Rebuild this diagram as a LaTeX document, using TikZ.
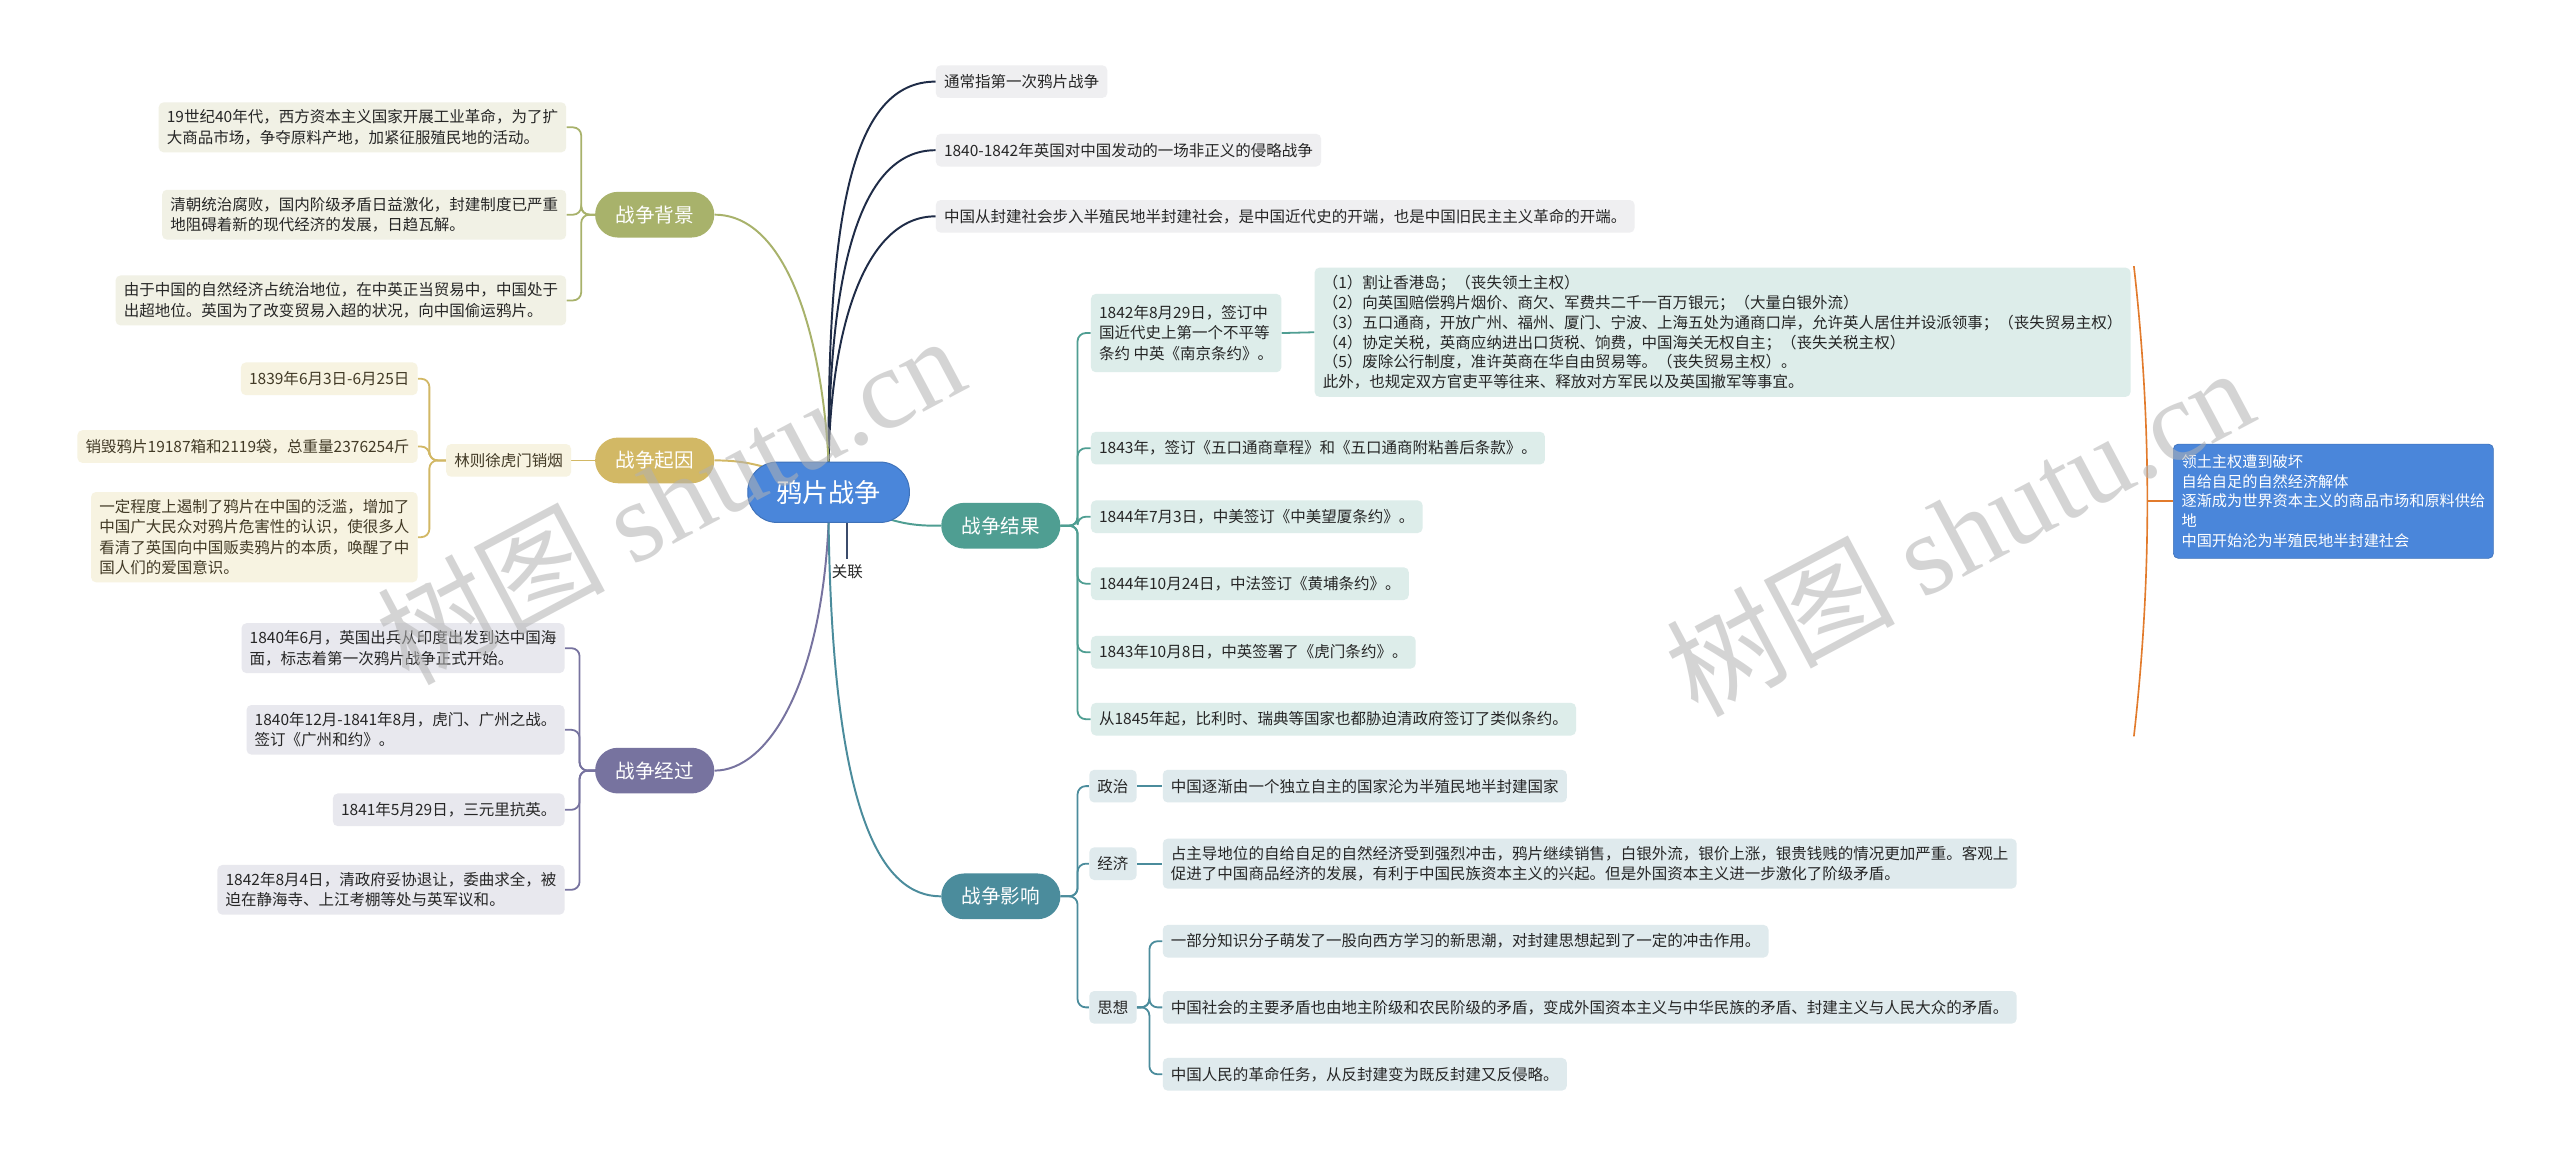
\documentclass[tikz,border=0pt]{standalone}
\usepackage{fontspec}
\setmainfont{Noto Sans CJK SC}
\newfontfamily\wmfont{Liberation Serif}
\usepackage{xcolor}
\usetikzlibrary{backgrounds}

\definecolor{rootblue}{HTML}{4A86DA}
\definecolor{oliveC}{HTML}{A8B26B}
\definecolor{goldC}{HTML}{D2B865}
\definecolor{purpleC}{HTML}{77739F}
\definecolor{tealC}{HTML}{4F9E92}
\definecolor{blueteal}{HTML}{4B8C9C}
\definecolor{navyC}{HTML}{1F2C47}
\definecolor{olivebox}{HTML}{F1F1E5}
\definecolor{goldbox}{HTML}{F7F3E1}
\definecolor{purplebox}{HTML}{E8E8EE}
\definecolor{graybox}{HTML}{EFEFF1}
\definecolor{tealbox}{HTML}{DDEDEA}
\definecolor{bluetealbox}{HTML}{DFEAED}
\definecolor{braceorange}{HTML}{E27B2C}
\definecolor{relslate}{HTML}{3B4B6B}
\definecolor{inkdark}{HTML}{262626}
\definecolor{inkgold}{HTML}{423A26}

\begin{document}
\begin{tikzpicture}[x=1pt,y=-1pt,
  every node/.style={font=\fontsize{9.5}{12.5}\selectfont, text=inkdark},
  root/.style={fill=rootblue, draw=rootblue!85!black, line width=0.6pt, rounded corners=18pt,
    minimum width=99pt, minimum height=37pt, text=white, font=\fontsize{16}{16}\selectfont},
  topic/.style={rounded corners=14pt, minimum width=73pt, minimum height=28pt, text=white,
    font=\fontsize{12}{12}\selectfont},
  leaf/.style={rounded corners=3pt, inner xsep=5pt, inner ysep=4.5pt, minimum height=20pt, align=left},
  link/.style={line width=1.2pt},
  fork/.style={line width=1.1pt, rounded corners=5pt},
  watermark/.style={text=black!30, text opacity=0.55, font=\fontsize{70}{70}\selectfont, rotate=28}
]
  \useasboundingbox (0,0) rectangle (1568,709);

  % root and main topics
  \node[root] (root) at (507.5,301.5) {鸦片战争};
  \node[topic, fill=oliveC] (bg) at (401,131.5) {战争背景};
  \node[topic, fill=goldC] (cause) at (401,282) {战争起因};
  \node[topic, fill=purpleC] (proc) at (401,472) {战争经过};
  \node[topic, fill=tealC] (res) at (613,322) {战争结果};
  \node[topic, fill=blueteal] (eff) at (613,549) {战争影响};
  \node (rel) at (519,350) {关联};

  % notes on the war itself
  \node[leaf, fill=graybox, anchor=west] (t1) at (573,50) {通常指第一次鸦片战争};
  \node[leaf, fill=graybox, anchor=west] (t2) at (573,92) {1840-1842年英国对中国发动的一场非正义的侵略战争};
  \node[leaf, fill=graybox, anchor=west] (t3) at (573,132.5) {中国从封建社会步入半殖民地半封建社会，是中国近代史的开端，也是中国旧民主主义革命的开端。};

  % background
  \node[leaf, fill=olivebox, anchor=east] (b1) at (347,78) {19世纪40年代，西方资本主义国家开展工业革命，为了扩\\大商品市场，争夺原料产地，加紧征服殖民地的活动。};
  \node[leaf, fill=olivebox, anchor=east] (b2) at (347,131.5) {清朝统治腐败，国内阶级矛盾日益激化，封建制度已严重\\地阻碍着新的现代经济的发展，日趋瓦解。};
  \node[leaf, fill=olivebox, anchor=east] (b3) at (347,184) {由于中国的自然经济占统治地位，在中英正当贸易中，中国处于\\出超地位。英国为了改变贸易入超的状况，向中国偷运鸦片。};

  % cause
  \node[leaf, fill=goldbox, text=inkgold, anchor=east] (lin) at (350,282) {林则徐虎门销烟};
  \node[leaf, fill=goldbox, text=inkgold, anchor=east] (c1) at (256,232) {1839年6月3日-6月25日};
  \node[leaf, fill=goldbox, text=inkgold, anchor=east] (c2) at (256,273.5) {销毁鸦片19187箱和2119袋，总重量2376254斤};
  \node[leaf, fill=goldbox, text=inkgold, anchor=east] (c3) at (256,329) {一定程度上遏制了鸦片在中国的泛滥，增加了\\中国广大民众对鸦片危害性的认识，使很多人\\看清了英国向中国贩卖鸦片的本质，唤醒了中\\国人们的爱国意识。};

  % course of the war
  \node[leaf, fill=purplebox, anchor=east] (p1) at (346,397) {1840年6月，英国出兵从印度出发到达中国海\\面，标志着第一次鸦片战争正式开始。};
  \node[leaf, fill=purplebox, anchor=east] (p2) at (346,447) {1840年12月-1841年8月，虎门、广州之战。\\签订《广州和约》。};
  \node[leaf, fill=purplebox, anchor=east] (p3) at (346,496) {1841年5月29日，三元里抗英。};
  \node[leaf, fill=purplebox, anchor=east] (p4) at (346,545) {1842年8月4日，清政府妥协退让，委曲求全，被\\迫在静海寺、上江考棚等处与英军议和。};

  % result
  \node[leaf, fill=tealbox, anchor=west, minimum height=48pt] (r1) at (668,204) {1842年8月29日，签订中\\国近代史上第一个不平等\\条约 中英《南京条约》。};
  \node[leaf, fill=tealbox, anchor=west, font=\fontsize{9.5}{12.2}\selectfont] (nanjing) at (805,203.5) {（1）割让香港岛；（丧失领土主权）\\（2）向英国赔偿鸦片烟价、商欠、军费共二千一百万银元；（大量白银外流）\\（3）五口通商，开放广州、福州、厦门、宁波、上海五处为通商口岸，允许英人居住并设派领事；（丧失贸易主权）\\（4）协定关税，英商应纳进出口货税、饷费，中国海关无权自主；（丧失关税主权）\\（5）废除公行制度，准许英商在华自由贸易等。（丧失贸易主权）。\\此外，也规定双方官吏平等往来、释放对方军民以及英国撤军等事宜。};
  \node[leaf, fill=tealbox, anchor=west] (r2) at (668,274.5) {1843年，签订《五口通商章程》和《五口通商附粘善后条款》。};
  \node[leaf, fill=tealbox, anchor=west] (r3) at (668,316.5) {1844年7月3日，中美签订《中美望厦条约》。};
  \node[leaf, fill=tealbox, anchor=west] (r4) at (668,357.5) {1844年10月24日，中法签订《黄埔条约》。};
  \node[leaf, fill=tealbox, anchor=west] (r5) at (668,399.5) {1843年10月8日，中英签署了《虎门条约》。};
  \node[leaf, fill=tealbox, anchor=west] (r6) at (668,440.5) {从1845年起，比利时、瑞典等国家也都胁迫清政府签订了类似条约。};
  \node[leaf, fill=rootblue, draw=rootblue!85!black, text=white, anchor=west, minimum height=70pt,
    font=\fontsize{9.3}{12}\selectfont] (summary) at (1331,307) {领土主权遭到破坏\\自给自足的自然经济解体\\逐渐成为世界资本主义的商品市场和原料供给\\地\\中国开始沦为半殖民地半封建社会};

  % effects
  \node[leaf, fill=bluetealbox, anchor=west] (pol) at (667,481.5) {政治};
  \node[leaf, fill=bluetealbox, anchor=west] (eco) at (667,529) {经济};
  \node[leaf, fill=bluetealbox, anchor=west] (tho) at (667,617) {思想};
  \node[leaf, fill=bluetealbox, anchor=west] (pol1) at (712,481.5) {中国逐渐由一个独立自主的国家沦为半殖民地半封建国家};
  \node[leaf, fill=bluetealbox, anchor=west] (eco1) at (712,529) {占主导地位的自给自足的自然经济受到强烈冲击，鸦片继续销售，白银外流，银价上涨，银贵钱贱的情况更加严重。客观上\\促进了中国商品经济的发展，有利于中国民族资本主义的兴起。但是外国资本主义进一步激化了阶级矛盾。};
  \node[leaf, fill=bluetealbox, anchor=west] (th1) at (712,576.5) {一部分知识分子萌发了一股向西方学习的新思潮，对封建思想起到了一定的冲击作用。};
  \node[leaf, fill=bluetealbox, anchor=west] (th2) at (712,617) {中国社会的主要矛盾也由地主阶级和农民阶级的矛盾，变成外国资本主义与中华民族的矛盾、封建主义与人民大众的矛盾。};
  \node[leaf, fill=bluetealbox, anchor=west] (th3) at (712,658) {中国人民的革命任务，从反封建变为既反封建又反侵略。};

  % fork points and the summary brace
  \coordinate (bgfork) at (356,131.5);
  \coordinate (causefork) at (263,282);
  \coordinate (procfork) at (355,472);
  \coordinate (resfork) at (660,322);
  \coordinate (efffork) at (660,549);
  \coordinate (thofork) at (704,617);
  \coordinate (bracetop) at (1307,163);
  \coordinate (bracebot) at (1307,451);
  \coordinate (bracemid) at (1315,307);

  % watermarks
  \node[watermark] (wm1) at (410,305) {树图 {\wmfont shutu.cn}};
  \node[watermark] (wm2) at (1200,325) {树图 {\wmfont shutu.cn}};

  \begin{pgfonlayer}{background}
    \fill[white] (0,0) rectangle (1568,709);
    % root to main topics
    \draw[link, navyC] (root.north) .. controls (507,130) and (522,50) .. (t1.west);
    \draw[link, navyC] (root.north) .. controls (508,170) and (525,92) .. (t2.west);
    \draw[link, navyC] (root.north) .. controls (509,200) and (530,132.5) .. (t3.west);
    \draw[link, oliveC] (bg.east) .. controls (480,131.5) and (503,200) .. (root.north);
    \draw[link, goldC] (cause.east) .. controls (455,282) and (470,284) .. (root.center);
    \draw[link, purpleC] (root.south) .. controls (503,420) and (470,472) .. (proc.east);
    \draw[link, tealC] (root.center) .. controls (545,322) and (560,322) .. (res.west);
    \draw[link, blueteal] (root.south) .. controls (510,500) and (540,549) .. (eff.west);
    \draw[line width=1.2pt, relslate] (root.south -| rel) -- (rel.north);

    % background
    \foreach \n in {b1,b2,b3}
      \draw[fork, oliveC] (bg.west) -- (bgfork) |- (\n.east);
    % cause
    \draw[fork, goldC] (cause.west) -- (lin.east);
    \foreach \n in {c1,c2,c3}
      \draw[fork, goldC] (lin.west) -- (causefork) |- (\n.east);
    % course
    \foreach \n in {p1,p2,p3,p4}
      \draw[fork, purpleC] (proc.west) -- (procfork) |- (\n.east);
    % result
    \foreach \n in {r1,r2,r3,r4,r5,r6}
      \draw[fork, tealC] (res.east) -- (resfork) |- (\n.west);
    \draw[fork, tealC] (r1.east) -- (nanjing.west);
    \draw[line width=1pt, braceorange] (bracetop) .. controls (1318,260) and (1318,354) .. (bracebot);
    \draw[line width=1pt, braceorange] (bracemid) -- (summary.west);
    % effects
    \foreach \n in {pol,eco,tho}
      \draw[fork, blueteal] (eff.east) -- (efffork) |- (\n.west);
    \draw[fork, blueteal] (pol.east) -- (pol1.west);
    \draw[fork, blueteal] (eco.east) -- (eco1.west);
    \foreach \n in {th1,th2,th3}
      \draw[fork, blueteal] (tho.east) -- (thofork) |- (\n.west);
  \end{pgfonlayer}
\end{tikzpicture}
\end{document}
